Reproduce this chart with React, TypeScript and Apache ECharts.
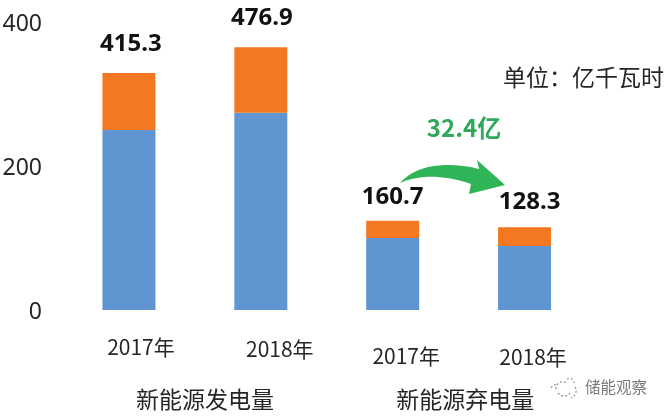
import React, { useEffect, useRef } from "react";
import * as echarts from "echarts";

const years = ["2017年", "2018年", "2017年", "2018年"];
const groups = ["新能源发电量", "新能源弃电量"];
const blueValues = [250, 274, 100, 89];
const orangeValues = [79, 91, 24, 26];
const totalLabels = ["415.3", "476.9", "160.7", "128.3"];
const yTicks = { min: 0, max: 400, interval: 200 };
const labelOffsets = [[2, -10], [1, -10], [0, -4], [5, -6]];
const yearPadding = [[10, 0, 0, 24], [12, 0, 0, 38], [19, 0, 0, 27], [20, 0, 0, 17]];
const groupPadding = [[0, 0, 0, 20], [0, 0, 0, 13]];

const ARROW = "M400,183 C414,168 432,165 448,165 C458,165 468,166 479,169 L477,160 L505,185 L469,194 L471,184 C455,178 436,176 424,177 C414,178 406,180 400,183 Z";
const LOGO = "M556,389 C556,383 562,380 566,383 M567,379 C571,377 575,380 574,384 M558,393 C562,397 567,397 570,393 M575,387 C578,391 575,396 571,398 M551,388 C553,385 556,384 558,385";

export default function App() {
  const ref = useRef<HTMLDivElement>(null);
  useEffect(() => {
    echarts.graphic.registerShape("greenArrow", echarts.graphic.extendPath(ARROW, {}));
    echarts.graphic.registerShape("wmLogo", echarts.graphic.extendPath(LOGO, {}));
    const chart = echarts.init(ref.current!, undefined, { renderer: "svg" });
    const font = "'Noto Sans CJK SC','Noto Sans',sans-serif";
    const rich: any = {};
    yearPadding.forEach((p, i) => {
      rich["y" + i] = { padding: p, fontSize: 21, color: "#262626", fontFamily: font };
    });
    const groupRich: any = {};
    groupPadding.forEach((p, i) => {
      groupRich["g" + i] = { padding: p, fontSize: 23, color: "#262626", fontFamily: font };
    });
    chart.setOption({
      animation: false,
      backgroundColor: "#ffffff",
      grid: { left: 63, right: 77.5, top: 22, bottom: 106, outerBoundsMode: "none" },
      xAxis: [
        {
          type: "category",
          data: years,
          axisLine: { show: false },
          axisTick: { show: false },
          axisLabel: {
            margin: 16,
            interval: 0,
            formatter: (v: string, i: number) => `{y${i}|${v}}`,
            rich,
          },
        },
        {
          type: "category",
          position: "bottom",
          offset: 62,
          data: groups,
          axisLine: { show: false },
          axisTick: { show: false },
          axisLabel: {
            margin: 14,
            interval: 0,
            formatter: (v: string, i: number) => `{g${i}|${v}}`,
            rich: groupRich,
          },
        },
      ],
      yAxis: {
        type: "value",
        min: yTicks.min,
        max: yTicks.max,
        interval: yTicks.interval,
        axisLine: { show: false },
        axisTick: { show: false },
        splitLine: { show: false },
        axisLabel: {
          margin: 21,
          fontSize: 23,
          color: "#262626",
          fontFamily: "'Noto Sans',sans-serif",
          padding: [0, 0, 13, 0],
        },
      },
      series: [
        {
          type: "bar",
          stack: "t",
          barWidth: 53,
          data: blueValues,
          itemStyle: { color: "#5f95d0" },
        },
        {
          type: "bar",
          stack: "t",
          barWidth: 53,
          data: orangeValues.map((v, i) => ({
            value: v,
            label: { offset: labelOffsets[i] },
          })),
          itemStyle: { color: "#f47721" },
          label: {
            show: true,
            position: "top",
            distance: 10,
            fontSize: 24,
            fontWeight: "bold",
            color: "#111111",
            fontFamily: "'Noto Sans',sans-serif",
            formatter: (p: any) => totalLabels[p.dataIndex],
          },
        },
      ],
      graphic: [
        { type: "greenArrow", x: 0, y: 0, style: { fill: "#2fb457" } },
        {
          type: "text", x: 464, y: 126,
          style: { text: "32.4亿", fill: "#2fa85a", font: `bold 24px ${font}`, align: "center", verticalAlign: "middle" },
        },
        {
          type: "text", x: 664, y: 76,
          style: { text: "单位：亿千瓦时", fill: "#262626", font: `23px ${font}`, align: "right", verticalAlign: "middle" },
        },
        {
          type: "text", x: 585, y: 386,
          style: { text: "储能观察", fill: "#7a7a7a", font: `15.5px ${font}`, align: "left", verticalAlign: "middle" },
        },
        { type: "wmLogo", x: 0, y: 0, style: { fill: "none", stroke: "#999999", lineWidth: 1.3, lineDash: [2, 2] } },
      ],
    });
    return () => chart.dispose();
  }, []);
  return <div ref={ref} style={{ position: "fixed", left: 0, top: 0, width: 668, height: 416, filter: "blur(0.6px)" }} />;
}
